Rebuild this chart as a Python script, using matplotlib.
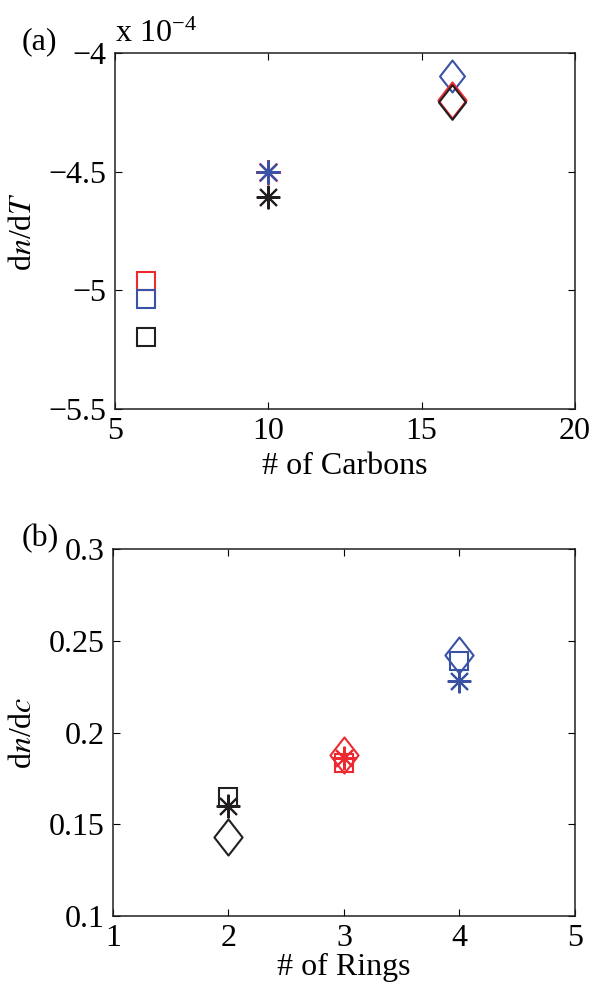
import numpy as np
import matplotlib
matplotlib.use('Agg')
from matplotlib import pyplot as plt
from matplotlib.path import Path
from matplotlib.ticker import FuncFormatter

plt.rcParams['font.family'] = ['Liberation Serif', 'DejaVu Serif']
plt.rcParams['mathtext.fontset'] = 'stix'
plt.rcParams['font.size'] = 23

RED = '#ec2a30'
BLUE = '#3a52a6'
BLACK = '#231f20'

# panel (a): dn/dT in units of 1e-4 vs number of carbons
carbons_sq = 6
sq_red, sq_blue, sq_black = -4.962, -5.038, -5.195
carbons_star = 10
star_red, star_blue, star_black = -4.50, -4.50, -4.605
carbons_dia = 16
dia_red, dia_blue, dia_black = -4.20, -4.095, -4.205

# panel (b): dn/dc vs number of rings
rings = [2, 3, 4]
colors_b = [BLACK, RED, BLUE]
dndc_square = [0.165, 0.1835, 0.239]
dndc_star = [0.160, 0.186, 0.228]
dndc_diamond = [0.143, 0.188, 0.2425]

diamond = Path([(0, 1), (0.78, 0), (0, -1), (-0.78, 0), (0, 1)],
               [Path.MOVETO, Path.LINETO, Path.LINETO, Path.LINETO, Path.CLOSEPOLY])
star = (8, 2, 0)
mk = dict(linestyle='none', markerfacecolor='none', markeredgewidth=1.5)


def style_axes(ax):
    ax.tick_params(direction='in', top=True, right=True, length=5, width=0.8,
                   pad=6)
    for s in ax.spines.values():
        s.set_linewidth(1.1)
        s.set_color(BLACK)


fig = plt.figure(figsize=(5.94, 9.82), dpi=100)

ax1 = fig.add_axes([0.1936, 0.5835, 0.7744, 0.3625])
ax1.plot(carbons_sq, sq_red, marker='s', ms=13, color=RED, **mk)
ax1.plot(carbons_sq, sq_blue, marker='s', ms=13, color=BLUE, **mk)
ax1.plot(carbons_sq, sq_black, marker='s', ms=13, color=BLACK, **mk)
ax1.plot(carbons_star, star_red, marker=star, ms=18, color=RED, **mk)
ax1.plot(carbons_star, star_blue, marker=star, ms=17, color=BLUE, **mk)
ax1.plot(carbons_star, star_black, marker=star, ms=17, color=BLACK, **mk)
ax1.plot(carbons_dia, dia_blue, marker=diamond, ms=23, color=BLUE, **mk)
ax1.plot(carbons_dia, dia_red, marker=diamond, ms=26, color=RED, **mk)
ax1.plot(carbons_dia, dia_black, marker=diamond, ms=25, color=BLACK, **mk)
ax1.set_xlim(5, 20)
ax1.set_ylim(-5.5, -4)
ax1.set_xticks([5, 10, 15, 20])
ax1.set_yticks([-5.5, -5, -4.5, -4])
ax1.yaxis.set_major_formatter(FuncFormatter(lambda v, p: ('%g' % v).replace('-', '\u2212')))
ax1.set_xlabel('# of Carbons', labelpad=4)
ax1.set_ylabel(r'd$n$/d$T$', labelpad=8)
style_axes(ax1)
ax1.text(0.0, 1.01, r'x 10$^{\mathregular{-4}}$', transform=ax1.transAxes,
         ha='left', va='bottom')
fig.text(0.037, 0.958, '(a)', ha='left', va='center')

ax2 = fig.add_axes([0.1902, 0.0672, 0.7778, 0.3737])
for x, c, a, b, d in zip(rings, colors_b, dndc_square, dndc_star, dndc_diamond):
    ax2.plot(x, a, marker='s', ms=13, color=c, **mk)
    ax2.plot(x, b, marker=star, ms=17, color=c, **mk)
    ax2.plot(x, d, marker=diamond, ms=26, color=c, **mk)
ax2.set_xlim(1, 5)
ax2.set_ylim(0.1, 0.3)
ax2.set_xticks([1, 2, 3, 4, 5])
ax2.set_yticks([0.1, 0.15, 0.2, 0.25, 0.3])
ax2.yaxis.set_major_formatter(FuncFormatter(lambda v, p: '%g' % v))
ax2.set_xlabel('# of Rings', labelpad=0)
ax2.set_ylabel(r'd$n$/d$c$', labelpad=8)
style_axes(ax2)
fig.text(0.037, 0.452, '(b)', ha='left', va='center')

fig.savefig('out.png', dpi=100)
